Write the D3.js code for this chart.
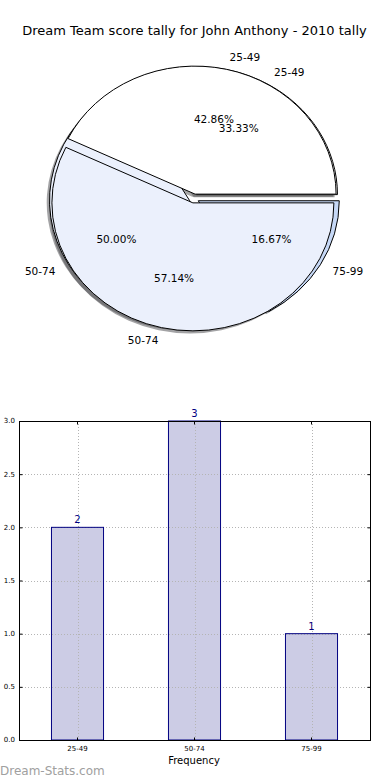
<!DOCTYPE html>
<html>
<head>
<meta charset="utf-8">
<script src="https://cdn.jsdelivr.net/npm/d3@7"></script>
<style>
  body { margin: 0; background: #fff; }
  svg { display: block; font-family: "DejaVu Sans", sans-serif; }
</style>
</head>
<body>
<div id="chart"></div>
<script>
const title = "Dream Team score tally for John Anthony - 2010 tally";
const categories = ["25-49", "50-74", "75-99"];
const counts = [2, 3, 1];
const innerLabels = ["25-49", "50-74"];
const innerCounts = [3, 4];
const pieColors = ["#ffffff", "#ebf0fc", "#c6d8f6"];
const yTicks = [0, 0.5, 1, 1.5, 2, 2.5, 3];

const width = 390, height = 780;
const svg = d3.select("#chart").append("svg")
    .attr("width", width)
    .attr("height", height);

svg.append("text")
    .attr("x", 194.5)
    .attr("y", 35)
    .attr("text-anchor", "middle")
    .style("font-size", "13px")
    .text(title);

// ---- pie (two pies drawn over each other, matplotlib style) ----
const cx = 194, cy = 198.5, rx = 141, ry = 128;
const explode = 0.035;
const shadowOff = 0.02;

const pie = d3.pie().sort(null)
    .startAngle(Math.PI / 2)
    .endAngle(Math.PI / 2 - 2 * Math.PI);
const arc = d3.arc().innerRadius(0).outerRadius(1);

// all shadows sit below all wedges, texts on top
const shadowLayer = svg.append("g");
const wedgeLayer = svg.append("g");
const textLayer = svg.append("g");

function drawPie(values, labels) {
  const total = d3.sum(values);
  const arcs = pie(values).map((d, i) => {
    const mid = (d.startAngle + d.endAngle) / 2;
    return Object.assign(d, {
      label: labels[i],
      fill: pieColors[i],
      ux: Math.sin(mid),
      uy: -Math.cos(mid),
      pct: (100 * d.value / total).toFixed(2) + "%"
    });
  });

  shadowLayer.append("g").selectAll("path")
    .data(arcs)
    .enter().append("path")
      .attr("transform", d => "translate(" + (cx + rx * (explode * d.ux - shadowOff)) + "," +
            (cy + ry * (explode * d.uy + shadowOff)) + ")scale(" + rx + "," + ry + ")")
      .attr("d", arc)
      .attr("fill", d => {
        const c = d3.rgb(d.fill);
        return "rgba(" + [c.r * 0.3, c.g * 0.3, c.b * 0.3].map(Math.round) + ",0.5)";
      })
      .attr("stroke", "none");

  wedgeLayer.append("g").selectAll("path")
    .data(arcs)
    .enter().append("path")
      .attr("transform", d => "translate(" + (cx + rx * explode * d.ux) + "," +
            (cy + ry * explode * d.uy) + ")scale(" + rx + "," + ry + ")")
      .attr("d", arc)
      .attr("vector-effect", "non-scaling-stroke")
      .attr("fill", d => d.fill)
      .attr("stroke", "#000")
      .attr("stroke-width", 1);

  textLayer.selectAll(null)
    .data(arcs)
    .enter().append("text")
      .attr("x", d => cx + rx * (explode + 1.1) * d.ux)
      .attr("y", d => cy + ry * (explode + 1.1) * d.uy)
      .attr("dy", "0.36em")
      .attr("text-anchor", d => d.ux > 0 ? "start" : "end")
      .style("font-size", "10.5px")
      .text(d => d.label);

  textLayer.selectAll(null)
    .data(arcs)
    .enter().append("text")
      .attr("x", d => cx + rx * (explode + 0.6) * d.ux)
      .attr("y", d => cy + ry * (explode + 0.6) * d.uy)
      .attr("dy", "0.36em")
      .attr("text-anchor", "middle")
      .style("font-size", "10.5px")
      .text(d => d.pct);
}

drawPie(counts, categories);
drawPie(innerCounts, innerLabels);

// ---- bar chart ----
const plotLeft = 19, plotRight = 370, plotTop = 421, plotBottom = 740;

const x = d3.scaleBand()
    .domain(categories)
    .range([plotLeft, plotRight])
    .paddingInner(0.555)
    .paddingOuter(0.2775);

const y = d3.scaleLinear()
    .domain([0, 3])
    .range([plotBottom, plotTop]);

const bars = svg.append("g");

bars.selectAll("rect")
    .data(counts)
  .enter().append("rect")
    .attr("x", (d, i) => x(categories[i]))
    .attr("y", d => y(d))
    .attr("width", x.bandwidth())
    .attr("height", d => y(0) - y(d))
    .attr("fill", "#ccccE5");

// grid
const grid = svg.append("g")
    .attr("stroke", "#b4b4b4")
    .attr("stroke-width", 1)
    .attr("stroke-dasharray", "1,2");

grid.selectAll("line.gy")
    .data(yTicks)
  .enter().append("line")
    .attr("x1", plotLeft).attr("x2", plotRight)
    .attr("y1", d => Math.round(y(d)) + 0.5)
    .attr("y2", d => Math.round(y(d)) + 0.5);

grid.selectAll("line.gx")
    .data(categories)
  .enter().append("line")
    .attr("x1", d => Math.round(x(d) + x.bandwidth() / 2) + 0.5)
    .attr("x2", d => Math.round(x(d) + x.bandwidth() / 2) + 0.5)
    .attr("y1", plotTop).attr("y2", plotBottom);

// bar outlines above the grid
svg.append("g").selectAll("rect")
    .data(counts)
  .enter().append("rect")
    .attr("x", (d, i) => x(categories[i]))
    .attr("y", d => y(d))
    .attr("width", x.bandwidth())
    .attr("height", d => y(0) - y(d))
    .attr("fill", "none")
    .attr("stroke", "#000080")
    .attr("stroke-width", 1);

// frame
svg.append("rect")
    .attr("x", plotLeft + 0.5)
    .attr("y", plotTop + 0.5)
    .attr("width", plotRight - plotLeft)
    .attr("height", plotBottom - plotTop)
    .attr("fill", "none")
    .attr("stroke", "#000")
    .attr("stroke-width", 1);

// axes (matplotlib-like inward ticks)
const yAxis = svg.append("g")
    .attr("transform", "translate(" + (plotLeft + 0.5) + ",0)")
    .call(d3.axisRight(y).tickValues(yTicks).tickSize(3).tickFormat(""));
yAxis.select(".domain").remove();

const yAxisR = svg.append("g")
    .attr("transform", "translate(" + (plotRight + 0.5) + ",0)")
    .call(d3.axisLeft(y).tickValues(yTicks).tickSize(3).tickFormat(""));
yAxisR.select(".domain").remove();

svg.append("g")
    .selectAll("text")
    .data(yTicks)
  .enter().append("text")
    .attr("x", 15)
    .attr("y", d => y(d))
    .attr("dy", "0.35em")
    .attr("text-anchor", "end")
    .style("font-size", "7px")
    .text(d => d.toFixed(1));

const xAxis = svg.append("g")
    .attr("transform", "translate(0," + (plotBottom + 0.5) + ")")
    .call(d3.axisTop(x).tickSize(3).tickFormat(""));
xAxis.select(".domain").remove();

const xAxisT = svg.append("g")
    .attr("transform", "translate(0," + (plotTop + 0.5) + ")")
    .call(d3.axisBottom(x).tickSize(3).tickFormat(""));
xAxisT.select(".domain").remove();

svg.append("g")
    .selectAll("text")
    .data(categories)
  .enter().append("text")
    .attr("x", d => x(d) + x.bandwidth() / 2)
    .attr("y", 751)
    .attr("text-anchor", "middle")
    .style("font-size", "7px")
    .text(d => d);

bars.selectAll("text")
    .data(counts)
  .enter().append("text")
    .attr("x", (d, i) => x(categories[i]) + x.bandwidth() / 2)
    .attr("y", d => y(d) - 4)
    .attr("text-anchor", "middle")
    .attr("fill", "#000080")
    .style("font-size", "10px")
    .text(d => d);

svg.append("text")
    .attr("x", 194)
    .attr("y", 764)
    .attr("text-anchor", "middle")
    .style("font-size", "10px")
    .text("Frequency");

svg.append("text")
    .attr("x", 0)
    .attr("y", 775)
    .attr("fill", "#a0a0a0")
    .style("font-size", "12px")
    .text("Dream-Stats.com");
</script>
</body>
</html>
